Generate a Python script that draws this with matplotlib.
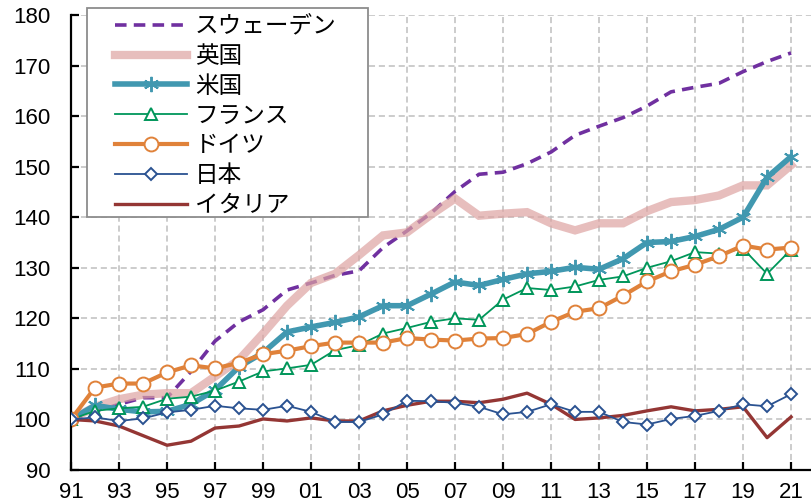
import numpy as np
import matplotlib
matplotlib.use('Agg')
import matplotlib.pyplot as plt
from matplotlib.patches import Rectangle

plt.rcParams['font.family'] = ['Liberation Sans', 'Noto Sans CJK JP', 'DejaVu Sans']

# real GDP index, 1991 = 100
years = np.arange(1991, 2022)
tick_years = np.arange(1991, 2022, 2)
tick_labels = ['%02d' % (y % 100) for y in tick_years]

sweden = [100, 101.5, 103.0, 104.3, 104.3, 109.5, 115.5, 119.3, 121.7, 125.6,
          127.0, 128.5, 129.4, 134.0, 137.3, 140.8, 145.1, 148.5, 148.9, 150.6,
          152.9, 156.2, 158.0, 159.7, 162.0, 164.8, 165.7, 166.5, 168.8, 170.8, 172.5]
uk = [100, 102.5, 104.0, 104.9, 105.2, 105.2, 108.5, 111.8, 117.0, 122.5,
      127.0, 128.8, 132.5, 136.4, 137.0, 140.5, 143.7, 140.3, 140.7, 141.0,
      138.8, 137.4, 138.8, 138.8, 141.2, 143.0, 143.4, 144.3, 146.3, 146.3, 150.3]
us = [100, 102.8, 102.0, 101.5, 101.6, 103.0, 105.8, 110.4, 113.2, 117.3,
      118.3, 119.2, 120.3, 122.5, 122.5, 124.8, 127.2, 126.5, 127.7, 128.8,
      129.3, 130.1, 129.7, 131.8, 135.0, 135.2, 136.2, 137.6, 140.0, 147.9, 152.0]
france = [100, 101.7, 102.2, 102.5, 104.1, 104.5, 105.7, 107.5, 109.5, 110.1,
          110.8, 113.7, 114.7, 117.0, 118.1, 119.3, 120.0, 119.7, 123.7, 126.0,
          125.6, 126.3, 127.6, 128.3, 130.0, 131.3, 133.1, 132.8, 133.8, 128.8, 133.6]
germany = [100, 106.3, 107.1, 107.1, 109.3, 110.7, 110.1, 111.2, 112.9, 113.6,
           114.5, 115.2, 115.2, 115.2, 116.1, 115.8, 115.6, 116.0, 116.1, 116.9,
           119.3, 121.3, 122.0, 124.5, 127.3, 129.3, 130.6, 132.3, 134.4, 133.6, 134.0]
japan = [100, 100.4, 99.7, 100.2, 101.4, 101.9, 102.7, 102.2, 101.9, 102.7,
         101.5, 99.5, 99.5, 101.0, 103.7, 103.6, 103.3, 102.5, 101.0, 101.5,
         103.0, 101.5, 101.5, 99.5, 99.0, 100.1, 100.7, 101.7, 103.0, 102.6, 105.0]
italy = [100, 99.7, 98.7, 96.8, 94.9, 95.7, 98.3, 98.7, 100.1, 99.7,
         100.3, 99.7, 99.7, 101.7, 102.8, 103.6, 103.6, 103.3, 104.0, 105.2,
         103.0, 100.0, 100.3, 100.8, 101.7, 102.5, 101.7, 102.0, 102.5, 96.4, 100.5]

W, H = 811, 504
fig = plt.figure(figsize=(W / 100, H / 100), dpi=100)
ax = fig.add_axes([71 / W, 34 / H, 740 / W, 455 / H])

ax.plot(years, sweden, color='#7030A0', lw=2.6, ls=(0, (3.2, 2.0)), label='スウェーデン', zorder=2)
ax.plot(years, uk, color='#DDA3A2', alpha=0.7, lw=6, solid_joinstyle='miter', label='英国', zorder=2.1)
ax.plot(years, us, color='#4198B0', lw=4, marker=(6, 2, 0), ms=11, mew=1.4, label='米国', zorder=2.2)
ax.plot(years, france, color='#00965A', lw=1.3, marker='^', ms=9, mfc='white', mew=1.4, label='フランス', zorder=2.3)
ax.plot(years, germany, color='#E0823A', lw=3, marker='o', ms=10, mfc='white', mew=1.4, label='ドイツ', zorder=2.4)
ax.plot(years, japan, color='#2A5291', lw=1.3, marker='D', ms=6.5, mfc='white', mew=1.4, label='日本', zorder=2.6)
ax.plot(years, italy, color='#943634', lw=2.4, label='イタリア', zorder=2.5)

ax.set_xlim(1991, 2021.83)
ax.set_ylim(90, 180)
ax.set_xticks(tick_years)
ax.set_xticklabels(tick_labels)
ax.set_yticks(np.arange(90, 181, 10))

ax.grid(True, color='#BFBFBF', lw=1.1, ls=(0, (4, 2.5)))
ax.set_axisbelow(True)
for s in ['top', 'right']:
    ax.spines[s].set_visible(False)
for s in ['left', 'bottom']:
    ax.spines[s].set_linewidth(1.6)
ax.tick_params(axis='both', direction='in', length=6, width=1.6, labelsize=16)
ax.tick_params(axis='x', pad=9)
ax.tick_params(axis='y', pad=15)

# legend frame drawn separately so the padding can be set freely
box = Rectangle((87 / W, 1 - 217 / H), 281 / W, 209 / H, transform=fig.transFigure,
                facecolor='white', edgecolor='#8C8C8C', lw=1.3, zorder=4, clip_on=False)
ax.add_patch(box)
leg = ax.legend(loc='upper left', bbox_to_anchor=(115 / W, 1 - 15 / H),
                bbox_transform=fig.transFigure, frameon=False, borderpad=0,
                borderaxespad=0, handlelength=3.05, handletextpad=0.33,
                labelspacing=0.29,
                prop={'family': ['Noto Sans CJK JP', 'DejaVu Sans'], 'size': 17})
leg.set_zorder(5)

fig.savefig('out.png', dpi=100)
